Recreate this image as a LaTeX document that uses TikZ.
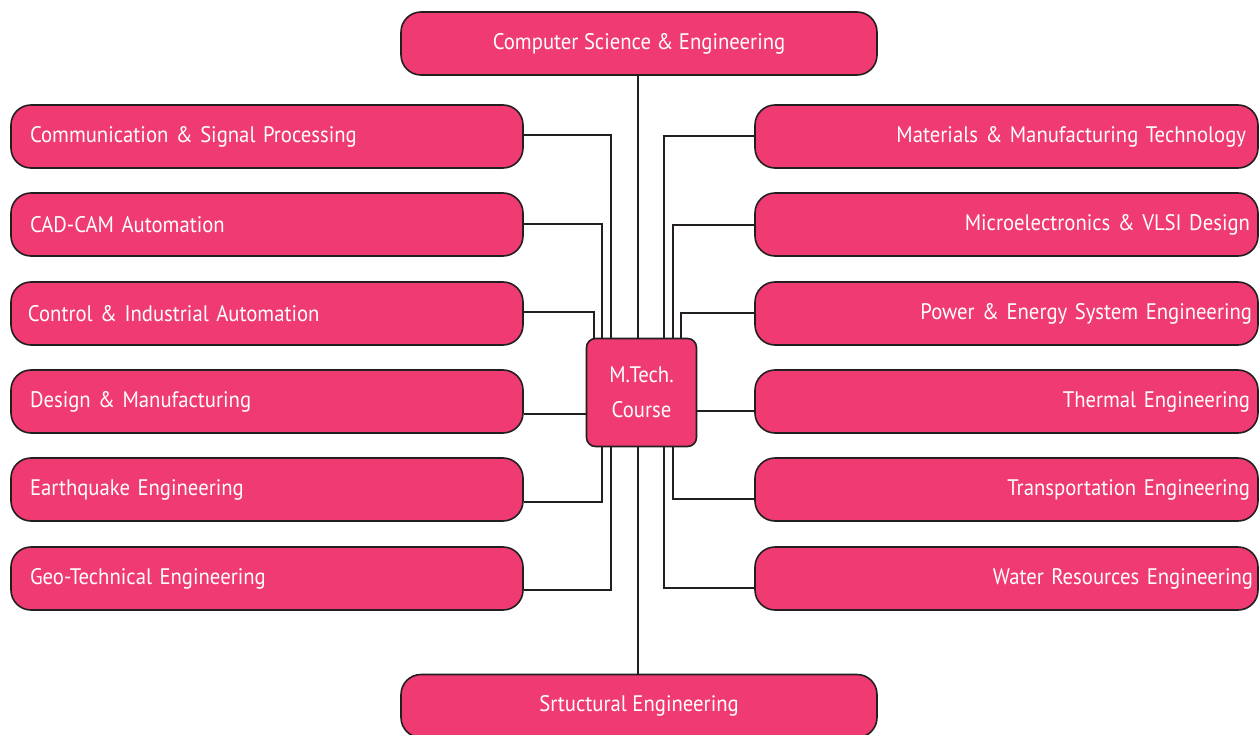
\documentclass[tikz,border=0pt]{standalone}
\usepackage{fontspec}
\setmainfont{PT Sans}[FakeStretch=0.92]
\definecolor{boxpink}{RGB}{240,58,114}
\definecolor{edge}{RGB}{35,31,32}
\begin{document}
\begin{tikzpicture}[x=1pt,y=-1pt,
  box/.style={draw=edge,line width=1.6pt,fill=boxpink,text=white,rounded corners=20pt,
    minimum height=63pt,inner ysep=0pt,font=\fontsize{22.5}{27}\selectfont},
  lbox/.style={box,text width=474pt,inner xsep=19pt,align=left},
  rbox/.style={box,text width=487pt,inner xsep=8pt,align=right},
  wbox/.style={box,minimum width=476pt,inner xsep=0pt},
  conn/.style={draw=edge,line width=1.6pt}]
\useasboundingbox (0,0) rectangle (1260,735);
\node[wbox] (cse) at (639,43.5) {Computer Science \& Engineering};
\node[wbox] (se) at (639,706) {Srtuctural Engineering};
\node[lbox] (l1) at (267,136.5) {Communication \& Signal Processing};
\node[lbox] (l2) at (267,224.5) {CAD-CAM Automation};
\node[lbox] (l3) at (267,313.5) {\hspace*{-2pt}Control \& Industrial Automation};
\node[lbox] (l4) at (267,401.5) {Design \& Manufacturing};
\node[lbox] (l5) at (267,489.5) {Earthquake Engineering};
\node[lbox] (l6) at (267,578.5) {Geo-Technical Engineering};
\node[rbox] (r1) at (1006.5,136.5) {Materials \& Manufacturing Technology\hspace*{4pt}};
\node[rbox] (r2) at (1006.5,224.5) {Microelectronics \& VLSI Design};
\node[rbox] (r3) at (1006.5,313.5) {Power \& Energy System Engineering\hspace*{-2pt}};
\node[rbox] (r4) at (1006.5,401.5) {Thermal Engineering};
\node[rbox] (r5) at (1006.5,489.5) {Transportation Engineering};
\node[rbox] (r6) at (1006.5,578.5) {Water Resources Engineering\hspace*{-3pt}};
\node[draw=edge,line width=1.6pt,fill=boxpink,text=white,rounded corners=9pt,
  minimum width=110pt,minimum height=108pt,align=center,
  font=\fontsize{22.5}{35}\selectfont] (mt) at (641.5,392.5) {M.Tech.\\Course};
% main vertical
\draw[conn] ([xshift=-1pt]cse.south) -- ([xshift=-1pt]cse.south |- mt.north);
\draw[conn] ([xshift=-1pt]se.north |- mt.south) -- ([xshift=-1pt]se.north);
% left
\draw[conn] ([yshift=1.5pt]l1.east) -| ([xshift=-30.5pt]mt.north);
\draw[conn] ([yshift=0.5pt]l2.east) -| ([xshift=-39.5pt]mt.north);
\draw[conn] ([yshift=1.5pt]l3.east) -| ([xshift=-47.5pt]mt.north);
\draw[conn] ([yshift=-12.5pt]l4.east) -- ([yshift=-12.5pt]l4.east -| mt.west);
\draw[conn] ([yshift=-12.5pt]l5.east) -| ([xshift=-39.5pt]mt.south);
\draw[conn] ([yshift=-11.5pt]l6.east) -| ([xshift=-30.5pt]mt.south);
% right
\draw[conn] ([yshift=0.5pt]r1.west) -| ([xshift=22.5pt]mt.north);
\draw[conn] ([yshift=-0.5pt]r2.west) -| ([xshift=31.5pt]mt.north);
\draw[conn] ([yshift=0.5pt]r3.west) -| ([xshift=39.5pt]mt.north);
\draw[conn] ([yshift=-9.5pt]r4.west) -- ([yshift=-9.5pt]r4.west -| mt.east);
\draw[conn] ([yshift=-9.5pt]r5.west) -| ([xshift=31.5pt]mt.south);
\draw[conn] ([yshift=-9.5pt]r6.west) -| ([xshift=22.5pt]mt.south);
\end{tikzpicture}
\end{document}
